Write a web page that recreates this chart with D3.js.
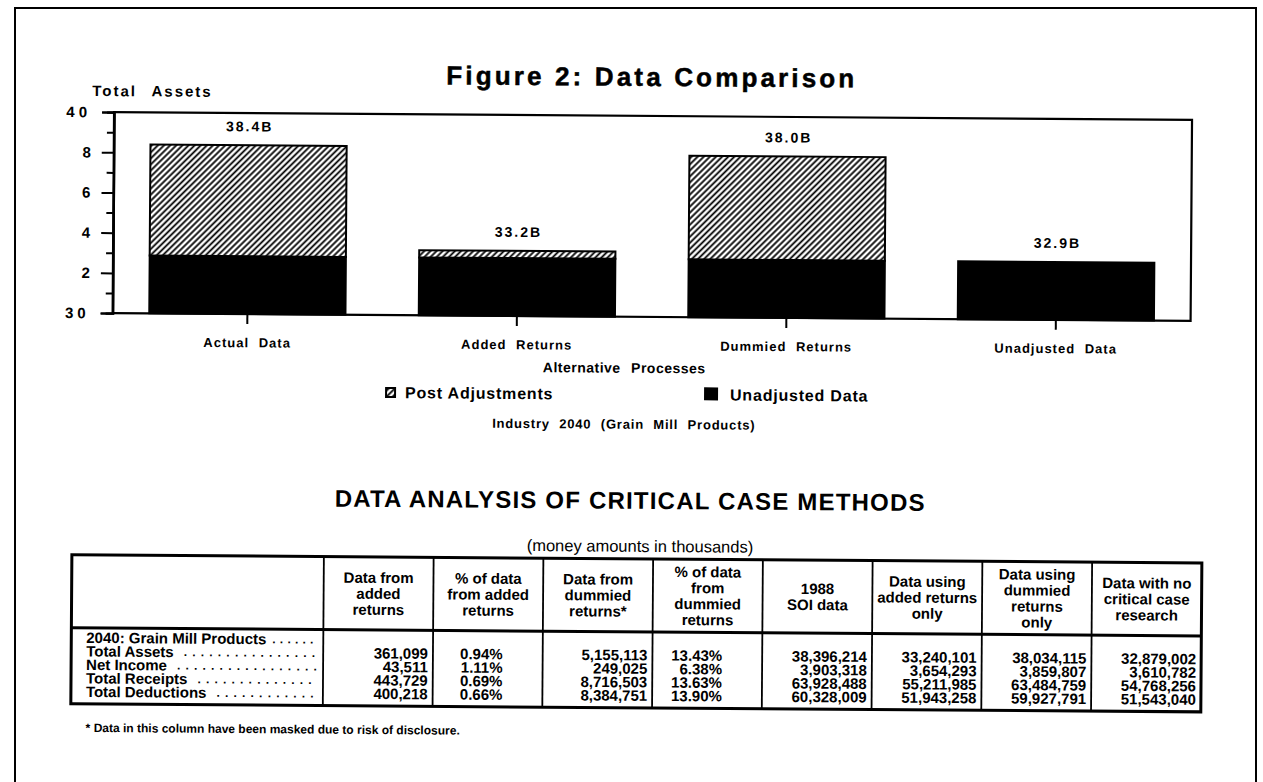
<!DOCTYPE html>
<html>
<head>
<meta charset="utf-8">
<script src="https://cdn.jsdelivr.net/npm/d3@7"></script>
<style>
body { margin: 0; background: #fff; }
svg { display: block; }
text { font-family: "Liberation Sans", Arial, sans-serif; font-weight: bold; fill: #000; }
</style>
</head>
<body>
<svg id="chart" width="1263" height="782"></svg>
<script>
// bar chart values, billions of dollars
var categories = ["Actual Data", "Added Returns", "Dummied Returns", "Unadjusted Data"];
var totalAssets = [38.396, 33.240, 38.034, 32.879];
var unadjustedAssets = [32.879, 32.879, 32.879, 32.879];
var barLabels = ["38.4B", "33.2B", "38.0B", "32.9B"];
var yTicks = [30, 32, 34, 36, 38, 40];
var yTickLabels = ["30", "2", "4", "6", "8", "40"];
var yMinorTicks = [31, 33, 35, 37, 39];
var legendItems = ["Post Adjustments", "Unadjusted Data"];

// table
var tableHeaders = [
	["Data from", "added", "returns"],
	["% of data", "from added", "returns"],
	["Data from", "dummied", "returns*"],
	["% of data", "from", "dummied", "returns"],
	["1988", "SOI data"],
	["Data using", "added returns", "only"],
	["Data using", "dummied", "returns", "only"],
	["Data with no", "critical case", "research"]
];
var percentColumns = [1, 3];
var rowLabels = ["2040: Grain Mill Products", "Total Assets", "Net Income", "Total Receipts", "Total Deductions"];
var rowValues = [
	[],
	["361,099", "0.94%", "5,155,113", "13.43%", "38,396,214", "33,240,101", "38,034,115", "32,879,002"],
	["43,511", "1.11%", "249,025", "6.38%", "3,903,318", "3,654,293", "3,859,807", "3,610,782"],
	["443,729", "0.69%", "8,716,503", "13.63%", "63,928,488", "55,211,985", "63,484,759", "54,768,256"],
	["400,218", "0.66%", "8,384,751", "13.90%", "60,328,009", "51,943,258", "59,927,791", "51,543,040"]
];

var svg = d3.select('#chart');

// hatch for the post adjustment part
var defs = svg.append('defs');
var hatch = defs.append('pattern')
	.attr('id', 'hatch')
	.attr('patternUnits', 'userSpaceOnUse')
	.attr('width', 4.3)
	.attr('height', 4.3)
	.attr('patternTransform', 'rotate(45)');
hatch.append('rect').attr('width', 4.3).attr('height', 4.3).attr('fill', '#fff');
hatch.append('line')
	.attr('x1', 2.15).attr('y1', 0).attr('x2', 2.15).attr('y2', 4.3)
	.attr('stroke', '#000').attr('stroke-width', 1.8);

// page frame of the scan
svg.append('path')
	.attr('d', 'M15,782V8H1256V782')
	.attr('fill', 'none')
	.attr('stroke', '#000')
	.attr('stroke-width', 2);

// the scanned page is a little bit tilted
var g = svg.append('g').attr('transform', 'rotate(0.41,100,400)');

g.append('text')
	.attr('x', 648).attr('y', 82)
	.attr('text-anchor', 'middle')
	.attr('textLength', 408).attr('lengthAdjust', 'spacing')
	.style('font-size', '26px')
	.style('stroke', '#000').style('stroke-width', 0.5)
	.text('Figure 2: Data Comparison');

g.append('text')
	.attr('x', 90).attr('y', 96)
	.style('font-size', '15px')
	.style('letter-spacing', '2px')
	.style('word-spacing', '9px')
	.text('Total Assets');

var plot = {left: 112, right: 1190, top: 112, bottom: 313};
var x = d3.scaleBand().domain(categories)
	.range([plot.left, plot.right])
	.paddingInner(0.272).paddingOuter(0.136);
var y = d3.scaleLinear().domain([30, 40]).range([plot.bottom, plot.top]);

// black = unadjusted data
g.selectAll('rect.base').data(categories).join('rect')
	.attr('class', 'base')
	.attr('x', function(d) { return x(d); })
	.attr('width', x.bandwidth())
	.attr('y', function(d, i) { return y(unadjustedAssets[i]); })
	.attr('height', function(d, i) { return y(30) - y(unadjustedAssets[i]); })
	.attr('fill', '#000')
	.attr('stroke', '#000')
	.attr('stroke-width', 2);

// hatched = post adjustments
g.selectAll('rect.adj').data(categories.filter(function(d, i) { return totalAssets[i] > unadjustedAssets[i]; }))
	.join('rect')
	.attr('class', 'adj')
	.attr('x', function(d) { return x(d); })
	.attr('width', x.bandwidth())
	.attr('y', function(d) { return y(totalAssets[categories.indexOf(d)]); })
	.attr('height', function(d) {
		var i = categories.indexOf(d);
		return y(unadjustedAssets[i]) - y(totalAssets[i]);
	})
	.attr('fill', 'url(#hatch)')
	.attr('stroke', '#000')
	.attr('stroke-width', 2);

g.selectAll('text.val').data(categories).join('text')
	.attr('class', 'val')
	.attr('x', function(d) { return x(d) + x.bandwidth()/2 + 1; })
	.attr('y', function(d, i) { return y(totalAssets[i]) - 14; })
	.attr('text-anchor', 'middle')
	.style('font-size', '14px')
	.style('letter-spacing', '2px')
	.text(function(d, i) { return barLabels[i]; });

g.append('rect')
	.attr('x', plot.left).attr('y', plot.top)
	.attr('width', plot.right - plot.left).attr('height', plot.bottom - plot.top)
	.attr('fill', 'none')
	.attr('stroke', '#000')
	.attr('stroke-width', 2.2);

var yAxis = g.append('g')
	.attr('transform', 'translate(' + plot.left + ',0)')
	.call(d3.axisLeft(y).tickValues(yTicks).tickSize(12).tickPadding(11)
		.tickFormat(function(d, i) { return yTickLabels[i]; }));
var yMinor = g.append('g')
	.attr('transform', 'translate(' + plot.left + ',0)')
	.call(d3.axisLeft(y).tickValues(yMinorTicks).tickSize(7).tickFormat(''));
[yAxis, yMinor].forEach(function(ax) {
	ax.select('.domain').attr('stroke-width', 2.2);
	ax.selectAll('.tick line').attr('stroke-width', 2);
});
yAxis.selectAll('.tick text')
	.attr('font-family', null).attr('font-size', null)
	.style('font-size', '15px')
	.style('letter-spacing', function(d) { return (d == 30 || d == 40) ? '4px' : '0px'; });

var xAxis = g.append('g')
	.attr('transform', 'translate(0,' + plot.bottom + ')')
	.call(d3.axisBottom(x).tickSize(10).tickPadding(14));
xAxis.select('.domain').remove();
xAxis.selectAll('.tick line').attr('stroke-width', 2);
xAxis.selectAll('.tick text')
	.attr('font-family', null).attr('font-size', null)
	.style('font-size', '13px')
	.style('letter-spacing', '1px')
	.style('word-spacing', '5px');

g.append('text')
	.attr('x', 624).attr('y', 369)
	.attr('text-anchor', 'middle')
	.style('font-size', '14px')
	.style('letter-spacing', '0.5px')
	.style('word-spacing', '6px')
	.text('Alternative Processes');

// legend
var legendX = [386, 705];
var lg = g.selectAll('g.legend').data(legendItems).join('g')
	.attr('class', 'legend')
	.attr('transform', function(d, i) { return 'translate(' + legendX[i] + ',386)'; });
lg.append('rect')
	.attr('width', function(d, i) { return i ? 12 : 9; })
	.attr('height', function(d, i) { return i ? 11 : 9; })
	.attr('y', function(d, i) { return i ? -2 : 0; })
	.attr('fill', function(d, i) { return i ? '#000' : 'url(#hatch)'; })
	.attr('stroke', '#000')
	.attr('stroke-width', 2);
lg.append('text')
	.attr('x', function(d, i) { return i ? 25 : 19; })
	.attr('y', 10)
	.style('font-size', '16px')
	.style('letter-spacing', '0.8px')
	.text(function(d) { return d; });

g.append('text')
	.attr('x', 624).attr('y', 425)
	.attr('text-anchor', 'middle')
	.style('font-size', '13px')
	.style('letter-spacing', '0.8px')
	.style('word-spacing', '5px')
	.text('Industry 2040 (Grain Mill Products)');

// table
g.append('text')
	.attr('x', 631).attr('y', 505)
	.attr('text-anchor', 'middle')
	.style('font-size', '24px')
	.style('letter-spacing', '1.2px')
	.text('DATA ANALYSIS OF CRITICAL CASE METHODS');

g.append('text')
	.attr('x', 641).attr('y', 548)
	.attr('text-anchor', 'middle')
	.style('font-size', '16.5px')
	.style('font-weight', 'normal')
	.text('(money amounts in thousands)');

var tbl = {left: 73, labelRight: 325, right: 1203, top: 555, headBottom: 628, bottom: 704};
var col = d3.scaleBand().domain(d3.range(tableHeaders.length)).range([tbl.labelRight, tbl.right]);

var headMid = (tbl.top + tbl.headBottom)/2;
tableHeaders.forEach(function(lines, c) {
	g.selectAll(null).data(lines).join('text')
		.attr('x', col(c) + col.bandwidth()/2)
		.attr('y', function(d, k) { return headMid + (k - (lines.length - 1)/2)*16; })
		.attr('dy', '0.36em')
		.attr('text-anchor', 'middle')
		.style('font-size', '15px')
		.text(function(d) { return d; });
});

var rowY = d3.scaleLinear().domain([0, 1]).range([643, 656.5]);
rowLabels.forEach(function(label, r) {
	var t = g.append('text')
		.attr('x', 88).attr('y', rowY(r))
		.style('font-size', '15px')
		.text(label);
	var w = t.node().getComputedTextLength();
	// dot leader up to the first column
	var start = 88 + w + (r ? 10 : 6);
	var pitch = r ? 8.5 : 7.5;
	var n = Math.floor((318 - start)/pitch) + 1;
	g.append('text')
		.attr('x', start).attr('y', rowY(r) - 1)
		.style('font-size', '12px')
		.style('letter-spacing', (pitch - 3.3) + 'px')
		.text(d3.range(n).map(function() { return '.'; }).join(''));
	g.selectAll(null).data(rowValues[r]).join('text')
		.attr('x', function(d, c) {
			return col(c) + col.bandwidth() - (percentColumns.indexOf(c) >= 0 ? 40 : 5);
		})
		.attr('y', rowY(r))
		.attr('text-anchor', 'end')
		.style('font-size', '15px')
		.text(function(d) { return d; });
});

// grid lines of the table
g.append('rect')
	.attr('x', tbl.left).attr('y', tbl.top)
	.attr('width', tbl.right - tbl.left).attr('height', tbl.bottom - tbl.top)
	.attr('fill', 'none').attr('stroke', '#000').attr('stroke-width', 3);
g.append('line')
	.attr('x1', tbl.left).attr('x2', tbl.right)
	.attr('y1', tbl.headBottom).attr('y2', tbl.headBottom)
	.attr('stroke', '#000').attr('stroke-width', 3);
g.selectAll('line.colsep').data(col.domain()).join('line')
	.attr('class', 'colsep')
	.attr('x1', function(c) { return col(c); })
	.attr('x2', function(c) { return col(c); })
	.attr('y1', tbl.top).attr('y2', tbl.bottom)
	.attr('stroke', '#000').attr('stroke-width', 1.8);

g.append('text')
	.attr('x', 88).attr('y', 732)
	.style('font-size', '12px')
	.text('* Data in this column have been masked due to risk of disclosure.');
</script>
</body>
</html>
